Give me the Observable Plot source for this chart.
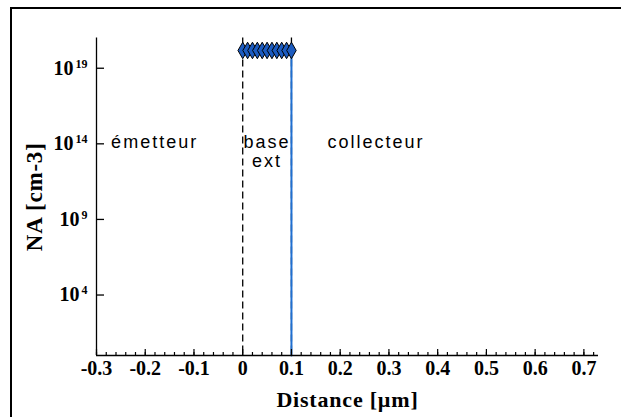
<!DOCTYPE html>
<html>
<head>
<meta charset="utf-8">
<script src="https://cdn.jsdelivr.net/npm/d3@7"></script>
<script src="https://cdn.jsdelivr.net/npm/@observablehq/plot@0.6"></script>
<style>
  html, body { margin: 0; padding: 0; background: #fff; }
  #wrap { position: relative; width: 621px; height: 417px; overflow: hidden; background: #fff; }
  #wrap svg { position: absolute; left: 0; top: 0; }
  #border { position: absolute; left: 10px; top: 7px; width: 700px; height: 500px;
            border-top: 2px solid #000; border-left: 2px solid #000; pointer-events: none; }
</style>
</head>
<body>
<div id="wrap"><div id="border"></div></div>
<script>
// ---- data ----
const distance = [0, 0.01, 0.02, 0.03, 0.04, 0.05, 0.06, 0.07, 0.08, 0.09, 0.1];
const dopingNA = [1.5e20, 1.5e20, 1.5e20, 1.5e20, 1.5e20, 1.5e20, 1.5e20, 1.5e20, 1.5e20, 1.5e20, 1.5e20];
const profileX = [0, 0.1, 0.1];
const profileNA = [1.5e20, 1.5e20, 1];
const boundaries = [0, 0.1];
const xTicks = [-0.3, -0.2, -0.1, 0, 0.1, 0.2, 0.3, 0.4, 0.5, 0.6, 0.7];
const xTickLabels = ["-0.3", "-0.2", "-0.1", "0", "0.1", "0.2", "0.3", "0.4", "0.5", "0.6", "0.7"];
const yTicks = [1e4, 1e9, 1e14, 1e19];
const yTickExponents = ["4", "9", "14", "19"];
const emitterLabel = {text: "émetteur", x: -0.27, y: 1e14};
const baseLabel = {text: "base\next", x: 0.05, y: 1e14};
const collectorLabel = {text: "collecteur", x: 0.174, y: 1e14};

const points = distance.map((d, i) => ({x: d, y: dopingNA[i]}));
const profile = profileX.map((d, i) => ({x: d, y: profileNA[i]}));
const minorTicks = d3.range(-15, 37).map(i => i / 50);

const serif = "'Liberation Serif', 'Times New Roman', serif";
const sans = "'Liberation Sans', Arial, sans-serif";
const blue = "#1f6fd1";

const labelOpts = {x: "x", y: "y", text: "text", lineHeight: 1.06, lineAnchor: "top", dy: -9,
  fontFamily: sans, fontWeight: "normal", fontSize: 18, fill: "#000"};

const chart = Plot.plot({
  width: 621,
  height: 417,
  marginLeft: 96,
  marginRight: 23,
  marginTop: 37.5,
  marginBottom: 62,
  style: {fontFamily: serif, fontSize: "18px", fontWeight: "bold", color: "#000", background: "transparent", overflow: "visible"},
  x: {domain: [-0.3, 0.73]},
  y: {type: "log", domain: [1, 1e21]},
  marks: [
    Plot.ruleX(boundaries, {stroke: "#000", strokeWidth: 1.3, strokeDasharray: "7,4"}),
    Plot.line(profile, {x: "x", y: "y", stroke: blue, strokeWidth: 2}),
    Plot.dot(points, {x: "x", y: "y", symbol: "diamond", r: 5, fill: "#1d5cc0", stroke: "#000", strokeWidth: 1}),
    // axis lines
    Plot.ruleY([1], {stroke: "#000", strokeWidth: 1.3}),
    Plot.ruleX([-0.3], {stroke: "#000", strokeWidth: 1.3}),
    // x ticks (inward) and labels
    Plot.axisX({ticks: minorTicks, tickSize: -3, strokeWidth: 1.2, tickFormat: () => "", label: null}),
    Plot.axisX({ticks: xTicks, tickSize: -6, strokeWidth: 1.2, tickFormat: () => "", label: null}),
    Plot.axisX({ticks: xTicks, tickSize: 0, tickPadding: 5, fontSize: 20, fontWeight: "bold",
                tickFormat: (d) => xTickLabels[xTicks.indexOf(d)], label: null}),
    // y ticks (inward) and labels
    Plot.axisY({ticks: yTicks, tickSize: -8, strokeWidth: 1.3, tickFormat: () => "", label: null}),
    Plot.axisY({ticks: yTicks, tickSize: 0, tickPadding: 9, fontSize: 20, fontWeight: "bold",
                tickFormat: (d) => "E" + yTickExponents[yTicks.indexOf(d)], label: null}),
    // region annotations
    Plot.text([emitterLabel], {...labelOpts, textAnchor: "start"}),
    Plot.text([baseLabel], {...labelOpts, textAnchor: "middle"}),
    Plot.text([collectorLabel], {...labelOpts, textAnchor: "start"}),
    // axis titles
    Plot.text(["Distance [µm]"], {frameAnchor: "bottom", textAnchor: "middle", lineAnchor: "middle", dy: 44,
                                   fontSize: 22, fontWeight: "bold", fontFamily: serif}),
    Plot.text(["NA [cm-3]"], {frameAnchor: "left", textAnchor: "middle", lineAnchor: "middle", dx: -62, rotate: -90,
                               fontSize: 23, fontWeight: "bold", fontFamily: serif})
  ]
});

document.getElementById("wrap").insertBefore(chart, document.getElementById("border"));

// rewrite y tick labels as 10 with superscript exponents
d3.select(chart).selectAll("text").each(function() {
  const s = this.textContent;
  if (/^E\d+$/.test(s)) {
    const exp = s.slice(1);
    const t = d3.select(this);
    t.text("");
    t.append("tspan").text("10");
    t.append("tspan").attr("dx", "2").attr("dy", "-7").style("font-size", "12px").text(exp);
  }
});
// region labels: wide letter spacing as in the reference
d3.select(chart).selectAll("text").filter(function() {
  return /metteur|collecteur|base|ext/.test(this.textContent);
}).attr("letter-spacing", "2px");
d3.select(chart).selectAll("text").filter(function() {
  return /Distance|cm-3/.test(this.textContent);
}).attr("letter-spacing", "0.8px");
</script>
</body>
</html>
